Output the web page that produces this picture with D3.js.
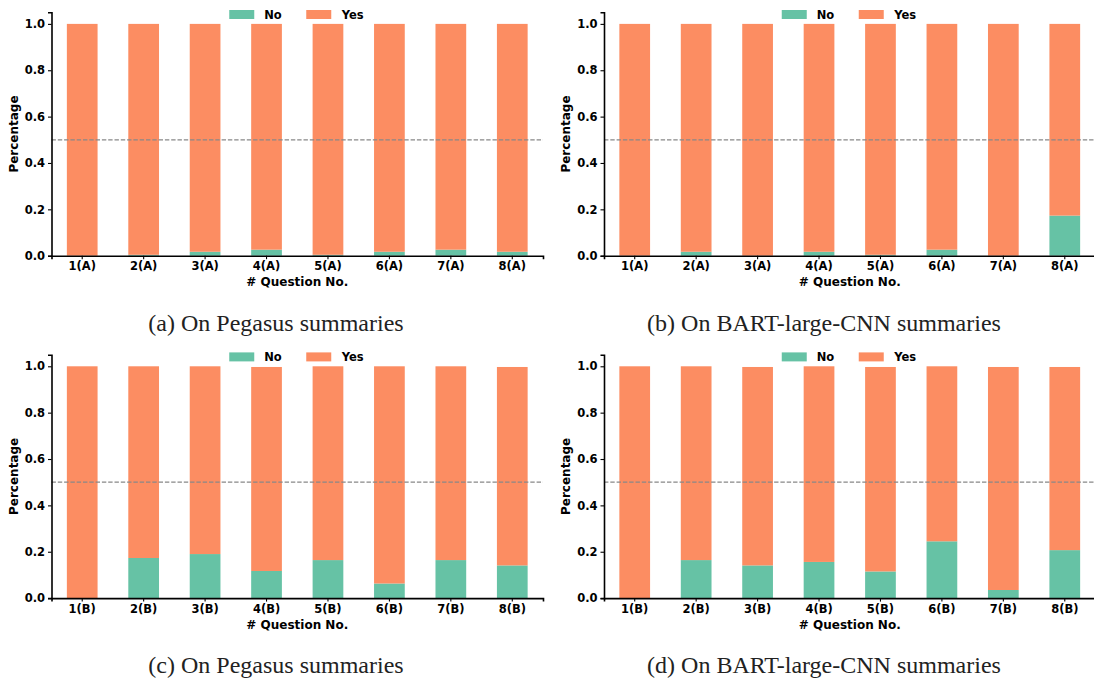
<!DOCTYPE html>
<html>
<head>
<meta charset="utf-8">
<script src="https://cdn.jsdelivr.net/npm/d3@7"></script>
<style>
  html, body { margin: 0; padding: 0; background: #fff; }
  svg { display: block; }
</style>
</head>
<body>
<svg id="chart" width="1094" height="678"></svg>
<script>
// ---- data ----
const questionsA = ["1(A)", "2(A)", "3(A)", "4(A)", "5(A)", "6(A)", "7(A)", "8(A)"];
const questionsB = ["1(B)", "2(B)", "3(B)", "4(B)", "5(B)", "6(B)", "7(B)", "8(B)"];

const noPegasusA = [0.0, 0.004, 0.017, 0.026, 0.004, 0.017, 0.026, 0.017];
const yesPegasusA = [1.0, 0.996, 0.983, 0.974, 0.996, 0.983, 0.974, 0.983];

const noBartA = [0.0, 0.017, 0.0, 0.017, 0.004, 0.026, 0.0, 0.173];
const yesBartA = [1.0, 0.983, 1.0, 0.983, 0.996, 0.974, 1.0, 0.827];

const noPegasusB = [0.0, 0.173, 0.190, 0.117, 0.164, 0.063, 0.164, 0.141];
const yesPegasusB = [1.0, 0.827, 0.810, 0.880, 0.836, 0.937, 0.836, 0.856];

const noBartB = [0.0, 0.164, 0.141, 0.156, 0.115, 0.245, 0.035, 0.207];
const yesBartB = [1.0, 0.836, 0.856, 0.844, 0.882, 0.755, 0.962, 0.790];

const yTicks = [0.0, 0.2, 0.4, 0.6, 0.8, 1.0];
const seriesNames = ["No", "Yes"];
const seriesColors = ["#66c2a5", "#fc8d62"];
const xLabel = "# Question No.";
const yLabel = "Percentage";
const captions = ["(a) On Pegasus summaries", "(b) On BART-large-CNN summaries",
                  "(c) On Pegasus summaries", "(d) On BART-large-CNN summaries"];

const panels = [
  { cats: questionsA, no: noPegasusA, yes: yesPegasusA, left: 51.5, top: 12.3, capX: 276, capY: 331 },
  { cats: questionsA, no: noBartA, yes: yesBartA, left: 604, top: 12.3, capX: 824, capY: 331 },
  { cats: questionsB, no: noPegasusB, yes: yesPegasusB, left: 51.5, top: 354.7, capX: 276, capY: 673 },
  { cats: questionsB, no: noBartB, yes: yesBartB, left: 604, top: 354.7, capX: 824, capY: 673 },
];

const W = 491.5, H = 243.4;
const svg = d3.select("#chart");
const boldFont = "'DejaVu Sans', sans-serif";

panels.forEach((p, i) => {
  const g = svg.append("g").attr("transform", `translate(${p.left},${p.top})`);
  const x = d3.scaleBand().domain(p.cats).range([0, W]).paddingInner(0.5).paddingOuter(0.25);
  const y = d3.scaleLinear().domain([0, 1.05]).range([H, 0]);

  // stacked bars
  const rows = p.cats.map((c, k) => ({ cat: c, No: p.no[k], Yes: p.yes[k] }));
  const stacked = d3.stack().keys(seriesNames)(rows);
  stacked.forEach((layer, li) => {
    g.append("g").selectAll("rect").data(layer).join("rect")
      .attr("x", d => x(d.data.cat))
      .attr("width", x.bandwidth())
      .attr("y", d => y(d[1]))
      .attr("height", d => Math.max(0, y(d[0]) - y(d[1])))
      .attr("fill", seriesColors[li]);
  });

  // dashed 0.5 line
  g.append("line")
    .attr("x1", 0).attr("x2", W)
    .attr("y1", y(0.5)).attr("y2", y(0.5))
    .attr("stroke", "#888").attr("stroke-width", 1.2)
    .attr("stroke-dasharray", "4.4,1.9");

  // axes
  const xAxis = g.append("g").attr("transform", `translate(0,${H})`)
    .call(d3.axisBottom(x).tickSizeOuter(0).tickSize(3.5).tickPadding(3));
  const yAxis = g.append("g")
    .call(d3.axisLeft(y).tickValues(yTicks).tickFormat(d3.format(".1f")).tickSizeOuter(0).tickSize(3.5).tickPadding(3));
  [xAxis, yAxis].forEach(a => {
    a.selectAll("path.domain").attr("stroke", "#000").attr("stroke-width", 1.6);
    a.selectAll(".tick line").attr("stroke", "#000").attr("stroke-width", 1.1);
    a.selectAll(".tick text").attr("fill", "#000")
      .style("font-family", boldFont).style("font-weight", "bold").style("font-size", "11.5px");
  });

  // axis labels
  g.append("text").text(xLabel)
    .attr("x", W / 2).attr("y", H + 30.5)
    .attr("text-anchor", "middle")
    .style("font-family", boldFont).style("font-weight", "bold").style("font-size", "12px");
  g.append("text").text(yLabel)
    .attr("transform", `translate(-34,${H / 2}) rotate(-90)`)
    .attr("text-anchor", "middle")
    .style("font-family", boldFont).style("font-weight", "bold").style("font-size", "12px");

  // legend
  const cx = W / 2;
  const leg = g.append("g");
  const legItems = [{ sx: -68, tx: -33 }, { sx: 9, tx: 44.5 }];
  seriesNames.forEach((s, k) => {
    leg.append("rect").attr("x", cx + legItems[k].sx).attr("y", -2.3)
      .attr("width", 25).attr("height", 9).attr("fill", seriesColors[k]);
    leg.append("text").text(s).attr("x", cx + legItems[k].tx).attr("y", 6.6)
      .style("font-family", boldFont).style("font-weight", "bold").style("font-size", "11.5px");
  });

  // caption
  svg.append("text").text(captions[i])
    .attr("x", p.capX).attr("y", p.capY)
    .attr("text-anchor", "middle")
    .style("font-family", "'Liberation Serif', 'Times New Roman', serif")
    .style("font-size", "24px").attr("fill", "#222");
});
</script>
</body>
</html>
